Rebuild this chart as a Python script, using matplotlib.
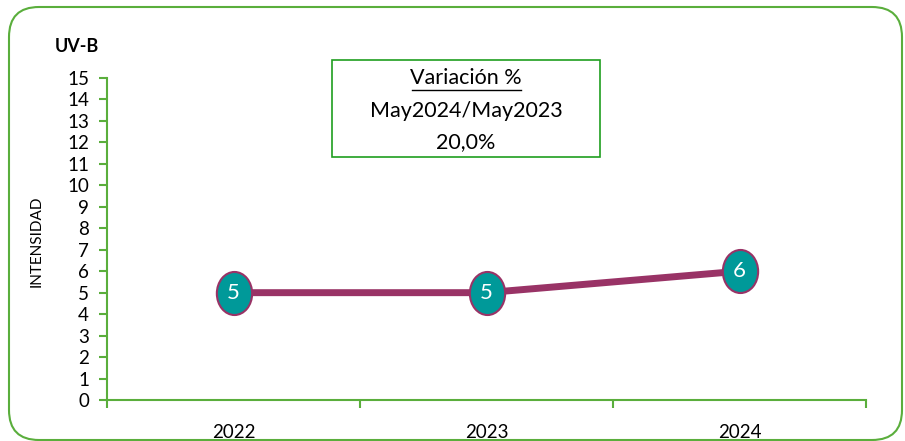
import matplotlib as mpl
mpl.use('Agg')
import matplotlib.pyplot as plt
from matplotlib.patches import FancyBboxPatch, Rectangle
from matplotlib.path import Path
from matplotlib.transforms import Affine2D, IdentityTransform
import numpy as np

years = ['2022', '2023', '2024']
intensity = [5, 5, 6]
y_ticks = list(range(0, 16))

plt.rcParams['font.family'] = ['Lato', 'DejaVu Sans']

green = '#5aae3c'
purple = '#993366'
teal = '#009999'

W, H = 905, 441
fig = plt.figure(figsize=(W / 100, H / 100), dpi=100)

# rounded outer frame (pixel coords, origin bottom-left)
frame = FancyBboxPatch((9, 1), 893, H - 8,
                       boxstyle='round,pad=0,rounding_size=30',
                       transform=IdentityTransform(), fill=False,
                       edgecolor=green, linewidth=1.5)
fig.patches.append(frame)

ax = fig.add_axes([107 / W, 1 - 400 / H, 759 / W, 322 / H])
x = np.arange(len(years))

ellipse = Path.unit_circle().transformed(Affine2D().scale(0.82, 1.0))
ax.plot(x, intensity, color=purple, linewidth=5, solid_capstyle='butt', zorder=2)
ax.plot(x, intensity, linestyle='none', marker=ellipse, markersize=31,
        markerfacecolor=teal, markeredgecolor=purple, markeredgewidth=1.5, zorder=3)
for xi, v in zip(x, intensity):
    ax.text(xi, v, str(v), color='white', fontsize=16, ha='center', va='center',
            zorder=4)

ax.set_xlim(-0.5, len(years) - 0.5)
ax.set_ylim(0, 15)
ax.set_yticks(y_ticks)
ax.tick_params(axis='y', colors=green, labelcolor='black', labelsize=13.5,
               length=6, width=1.5, pad=7)
ax.set_xticks(x)
ax.set_xticklabels(years)
ax.tick_params(axis='x', length=0, labelsize=13.5, pad=17)
ax.set_xticks(np.arange(-0.5, len(years)), minor=True)
ax.tick_params(axis='x', which='minor', colors=green, length=6, width=1.5,
               direction='out')
for s in ['top', 'right']:
    ax.spines[s].set_visible(False)
for s in ['left', 'bottom']:
    ax.spines[s].set_color(green)
    ax.spines[s].set_linewidth(1.5)

fig.text(37 / W, 1 - 241 / H, 'INTENSIDAD', fontsize=11, rotation=90,
         ha='center', va='center')
fig.text(55 / W, 1 - 47 / H, 'UV-B', fontsize=13, fontweight='bold',
         ha='left', va='center')

# variation box
box = Rectangle((332 / W, 1 - 157 / H), 268 / W, 97 / H,
                transform=fig.transFigure, fill=False, edgecolor='#1f9e1f',
                linewidth=1.2)
fig.patches.append(box)
cx = 466 / W
fig.text(cx, 1 - 78 / H, 'Variación %', fontsize=15.5, ha='center', va='center')
fig.add_artist(plt.Line2D([412 / W, 521 / W], [1 - 90 / H, 1 - 90 / H],
                          color='black', linewidth=1.0, transform=fig.transFigure))
fig.text(cx, 1 - 111 / H, 'May2024/May2023', fontsize=15.5, ha='center', va='center')
fig.text(cx, 1 - 142 / H, '20,0%', fontsize=15.5, ha='center', va='center')

plt.savefig('out.png', dpi=100)
plt.close()
